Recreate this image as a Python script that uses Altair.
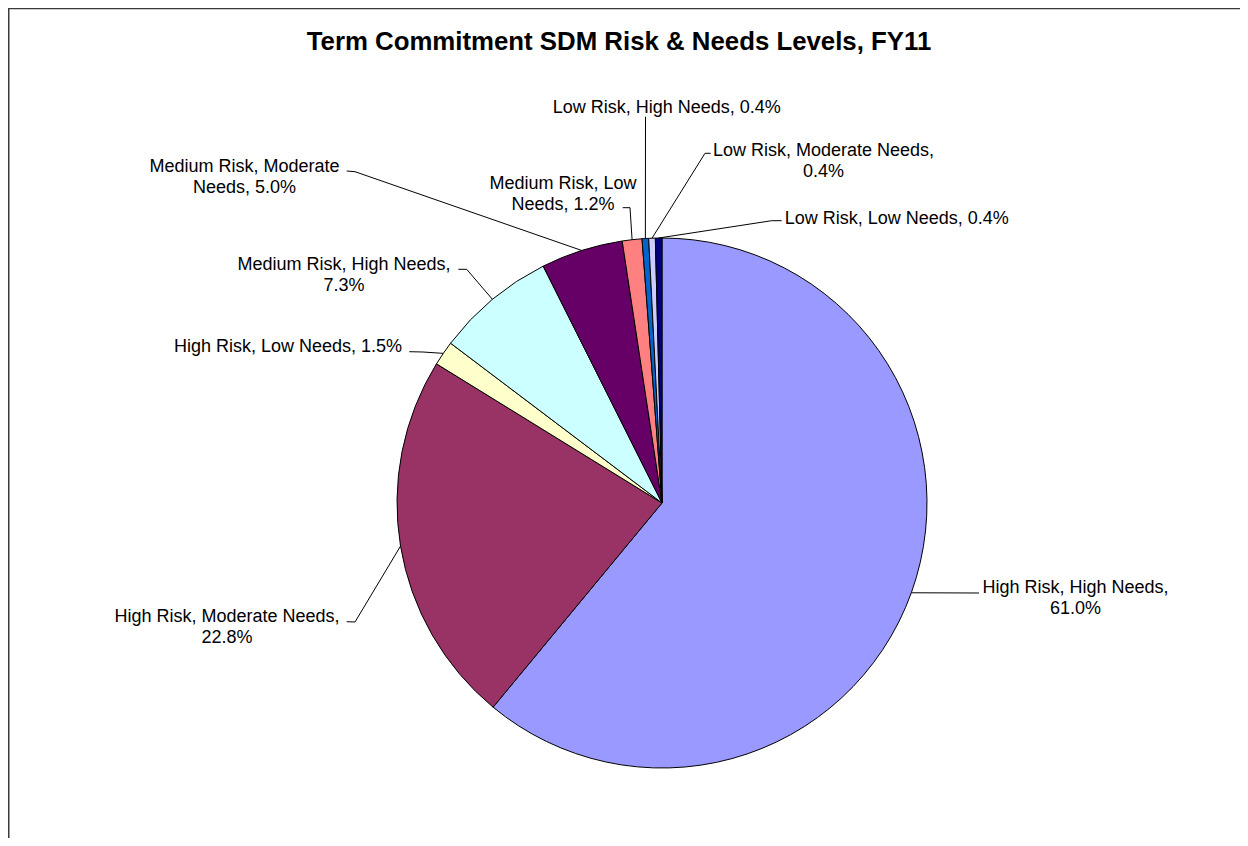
import altair as alt
import pandas as pd
import numpy as np

# ---------------- data ----------------
categories = [
    "High Risk, High Needs", "High Risk, Moderate Needs", "High Risk, Low Needs",
    "Medium Risk, High Needs", "Medium Risk, Moderate Needs", "Medium Risk, Low Needs",
    "Low Risk, High Needs", "Low Risk, Moderate Needs", "Low Risk, Low Needs",
]
shares = [61.0, 22.8, 1.5, 7.3, 5.0, 1.2, 0.4, 0.4, 0.4]
colors = ["#9999FF", "#993366", "#FFFFCC", "#CCFFFF", "#660066",
          "#FF8080", "#0066CC", "#CCCCFF", "#000080"]
label_texts = [
    "High Risk, High Needs,\n61.0%",
    "High Risk, Moderate Needs,\n22.8%",
    "High Risk, Low Needs, 1.5%",
    "Medium Risk, High Needs,\n7.3%",
    "Medium Risk, Moderate\nNeeds, 5.0%",
    "Medium Risk, Low\nNeeds, 1.2%",
    "Low Risk, High Needs, 0.4%",
    "Low Risk, Moderate Needs,\n0.4%",
    "Low Risk, Low Needs, 0.4%",
]
title_text = "Term Commitment SDM Risk & Needs Levels, FY11"

# ---------------- layout (pixels in the plot area) ----------------
W, H = 1232, 830
CX, CY, R = 654, 495, 265
label_x = [1067.5, 219, 280, 336, 236.5, 555, 658.7, 815.5, 888.7]
label_y = [579, 608, 338, 256, 158, 175, 98.7, 142, 210.3]
elbow_x = [971, 347, 415, 458.7, 347, 622, 637.5, 697, 763.7]
elbow_y = [585, 614, 344, 261.3, 163.7, 199.7, 108.7, 145.3, 212.7]
end_x = [971, 338.7, 401.3, 450.3, 338.7, 614.7, 637.5, 702.7, 773.7]
end_y = [585, 613.7, 343.7, 261.3, 163, 199.7, 108.7, 145.3, 212.7]

FONT = "Liberation Sans"

pie_df = pd.DataFrame({
    "category": categories,
    "share": shares,
    "idx": list(range(len(categories))),
})

# mid-angles of the slices (clockwise from 12 o'clock) -> leader start on the rim
vals = np.array(shares)
cum = np.cumsum(vals)
mid = (cum - vals / 2) / vals.sum() * 2 * np.pi
edge_x = CX + R * np.sin(mid)
edge_y = CY - R * np.cos(mid)

rows = []
for i in range(len(categories)):
    pts = [(edge_x[i], edge_y[i]), (elbow_x[i], elbow_y[i]), (end_x[i], end_y[i])]
    for s, (px, py) in enumerate(pts):
        rows.append({"lid": i, "step": s, "px": px, "py": py})
leader_df = pd.DataFrame(rows)

label_df = pd.DataFrame({"text": label_texts, "lx": label_x, "ly": label_y})

pie = alt.Chart(pie_df).mark_arc(
    outerRadius=R, stroke="black", strokeWidth=1
).encode(
    theta=alt.Theta("share:Q", stack=True),
    color=alt.Color("category:N", scale=alt.Scale(domain=categories, range=colors), legend=None),
    order=alt.Order("idx:Q"),
    x=alt.value(CX),
    y=alt.value(CY),
)

leaders = alt.Chart(leader_df).mark_line(color="black", strokeWidth=1).encode(
    x=alt.X("px:Q", scale=None),
    y=alt.Y("py:Q", scale=None),
    detail="lid:N",
    order="step:Q",
)

labels = alt.Chart(label_df).mark_text(
    font=FONT, fontSize=18, color="black", align="center",
    baseline="alphabetic", dy=6, lineBreak="\n", lineHeight=21,
).encode(
    x=alt.X("lx:Q", scale=None),
    y=alt.Y("ly:Q", scale=None),
    text="text:N",
)

title = alt.Chart(pd.DataFrame({"t": [title_text]})).mark_text(
    font=FONT, fontSize=25.8, fontWeight="bold", color="black",
    align="center", baseline="alphabetic",
).encode(
    x=alt.value(611), y=alt.value(42), text="t:N",
)

frame_left = alt.Chart(pd.DataFrame({"a": [0]})).mark_rule(
    color="#3a3a3a", strokeWidth=1.5
).encode(x=alt.value(0.75), y=alt.value(0), y2=alt.value(H))

frame_top = alt.Chart(pd.DataFrame({"a": [0]})).mark_rule(
    color="#3a3a3a", strokeWidth=1.5
).encode(y=alt.value(0.5), x=alt.value(0), x2=alt.value(W))

chart = alt.layer(pie, leaders, labels, title, frame_left, frame_top).properties(
    width=W, height=H,
    autosize=alt.AutoSizeParams(type="none"),
    padding=0,
    background="white",
).configure_view(stroke=None)

chart.save("out.html", embed_options={"renderer": "svg", "actions": False})
